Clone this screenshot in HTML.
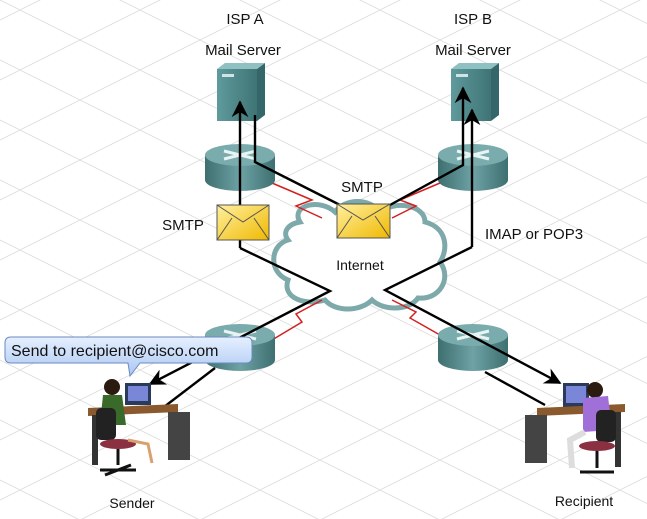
<!DOCTYPE html>
<html><head><meta charset="utf-8"><style>
html,body{margin:0;padding:0;background:#fff;width:647px;height:519px;overflow:hidden;}
svg{display:block;}
text{font-family:"Liberation Sans",sans-serif;fill:#111;}
</style></head><body>
<svg width="647" height="519" viewBox="0 0 647 519" xmlns="http://www.w3.org/2000/svg">
<defs>
<pattern id="grid" width="120" height="60" patternUnits="userSpaceOnUse" x="20" y="10">
<path d="M0,0 L120,60 M0,60 L120,0" stroke="#dcdcdc" stroke-width="0.8" fill="none"/>
</pattern>
<linearGradient id="srv" x1="0" x2="1"><stop offset="0" stop-color="#5f9a9c"/><stop offset="1" stop-color="#3f7476"/></linearGradient>
<linearGradient id="rt" x1="0" x2="1"><stop offset="0" stop-color="#3e6f71"/><stop offset="0.5" stop-color="#6ea2a4"/><stop offset="1" stop-color="#3e6f71"/></linearGradient>
<linearGradient id="env" x1="0" y1="0" x2="1" y2="1"><stop offset="0" stop-color="#fff0a0"/><stop offset="1" stop-color="#f0b800"/></linearGradient>
<linearGradient id="bub" x1="0" y1="0" x2="0" y2="1"><stop offset="0" stop-color="#e6f0ff"/><stop offset="1" stop-color="#a9c6f2"/></linearGradient>
<marker id="ah" viewBox="0 0 10 10" refX="9" refY="5" markerWidth="7" markerHeight="7" orient="auto"><path d="M0,0 L10,5 L0,10 L3,5z" fill="#000"/></marker>
<g id="router">
<path d="M-35,0 v25 a35,11 0 0 0 70,0 v-25z" fill="url(#rt)"/>
<ellipse cx="0" cy="0" rx="35" ry="11" fill="#7aacae"/>
<path d="M-16,-4 L16,4 M-16,4 L16,-4" stroke="#e8f4f4" stroke-width="3"/>
</g>
<g id="server">
<path d="M0,6 L8,0 L48,0 L40,6z" fill="#8fc0c2"/>
<path d="M40,6 L48,0 L48,52 L40,58z" fill="#35676a"/>
<rect x="0" y="6" width="40" height="52" fill="url(#srv)"/>
<rect x="5" y="11" width="12" height="3" fill="#cfe5e5"/>
</g>
</defs>
<rect x="0" y="0" width="647" height="519" fill="url(#grid)"/>
<text x="245" y="24" font-size="15" text-anchor="middle">ISP A</text>
<text x="243" y="55" font-size="15" text-anchor="middle">Mail Server</text>
<text x="473" y="24" font-size="15" text-anchor="middle">ISP B</text>
<text x="473" y="55" font-size="15" text-anchor="middle">Mail Server</text>
<use href="#server" x="217" y="63"/>
<use href="#server" x="451" y="63"/>
<path d="M300,222 C290,205 320,198 335,212 C345,198 370,198 380,212 C395,200 425,205 425,222 C448,228 448,250 440,262 C452,278 440,300 418,298 C408,312 382,310 372,300 C360,312 335,312 325,300 C305,306 282,298 288,280 C268,272 270,245 288,240 C282,232 288,224 300,222z" fill="#fff" stroke="#7ea9aa" stroke-width="5"/>
<text x="360" y="270" font-size="14" text-anchor="middle">Internet</text>
<g stroke="#d42020" stroke-width="1.5" fill="none">
<path d="M272,183 L312,200 L296,206 L322,218"/>
<path d="M440,183 L400,200 L416,206 L392,218"/>
<path d="M272,340 L302,322 L296,314 L322,300"/>
<path d="M440,335 L410,318 L416,312 L392,300"/>
</g>
<use href="#router" x="240" y="155"/>
<use href="#router" x="473" y="155"/>
<use href="#router" x="240" y="335"/>
<use href="#router" x="473" y="335"/>
<g stroke="#000" stroke-width="2.4" fill="none">
<path d="M240,248 L240,102" marker-end="url(#ah)"/>
<path d="M240,248 L330,291 L150,384" marker-end="url(#ah)"/>
<path d="M255,115 L255,162 L340,205"/>
<path d="M390,205 L463,165 L463,88" marker-end="url(#ah)"/>
<path d="M472,247 L472,110" marker-end="url(#ah)"/>
<path d="M472,247 L385,290 L560,383" marker-end="url(#ah)"/>
<path d="M160,410 L215,368"/>
<path d="M485,372 L545,405"/>
</g>
<g stroke="#555" stroke-width="1">
<rect x="217" y="205" width="52" height="35" fill="url(#env)"/>
<path d="M217,205 L243,222 L269,205 M217,240 L232,218 M269,240 L254,218" fill="none"/>
<rect x="337" y="204" width="53" height="34" fill="url(#env)"/>
<path d="M337,204 L363,220 L390,204 M337,238 L352,216 M390,238 L375,216" fill="none"/>
</g>
<text x="183" y="230" font-size="15" text-anchor="middle">SMTP</text>
<text x="362" y="192" font-size="15" text-anchor="middle">SMTP</text>
<text x="534" y="239" font-size="15" text-anchor="middle">IMAP or POP3</text>
<g>
<rect x="125" y="383" width="26" height="22" fill="#2a3a5a"/><rect x="128" y="386" width="20" height="15" fill="#7a86d8"/>
<path d="M88,408 L178,404 L178,412 L88,416z" fill="#8a5a2e"/>
<rect x="168" y="412" width="22" height="48" fill="#444"/>
<rect x="92" y="415" width="6" height="50" fill="#333"/>
<circle cx="112" cy="387" r="8" fill="#2a1a10"/>
<path d="M103,395 L122,395 L126,425 L100,425z" fill="#3a6a2a"/>
<rect x="96" y="408" width="20" height="32" rx="5" fill="#222"/>
<ellipse cx="118" cy="444" rx="18" ry="5" fill="#8a3040"/>
<path d="M118,449 L118,465 M100,470 L136,470 M105,475 L131,465" stroke="#111" stroke-width="3"/>
<path d="M128,440 L148,444 L152,463" stroke="#d9a070" stroke-width="3" fill="none"/>
</g>
<g>
<rect x="563" y="383" width="26" height="25" fill="#2a3a5a"/><rect x="566" y="386" width="20" height="17" fill="#7a86d8"/>
<path d="M537,408 L625,404 L625,412 L537,416z" fill="#8a5a2e"/>
<rect x="525" y="415" width="22" height="48" fill="#444"/>
<rect x="615" y="412" width="6" height="55" fill="#333"/>
<circle cx="595" cy="390" r="8" fill="#2a1a10"/>
<path d="M583,398 L608,396 L612,430 L583,432z" fill="#a070d8"/>
<path d="M585,432 L570,440 L572,468" stroke="#ddd" stroke-width="6" fill="none"/>
<rect x="596" y="410" width="20" height="32" rx="5" fill="#222"/>
<ellipse cx="597" cy="446" rx="18" ry="5" fill="#8a3040"/>
<path d="M597,451 L597,468 M580,472 L614,472" stroke="#111" stroke-width="3"/>
</g>
<text x="132" y="508" font-size="14" text-anchor="middle">Sender</text>
<text x="584" y="506" font-size="14" text-anchor="middle">Recipient</text>
<path d="M11,337 L246,337 Q252,337 252,343 L252,357 Q252,363 246,363 L140,363 L130,376 L128,363 L11,363 Q5,363 5,357 L5,343 Q5,337 11,337z" fill="url(#bub)" stroke="#6a8ac0" stroke-width="1"/>
<text x="11" y="356" font-size="16">Send to recipient@cisco.com</text>
</svg>
</body></html>
